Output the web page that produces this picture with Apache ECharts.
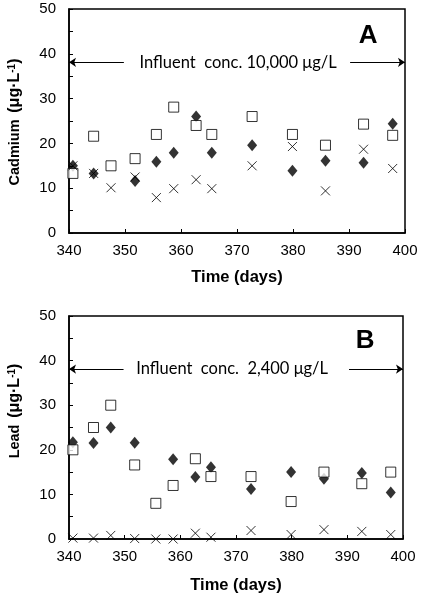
<!DOCTYPE html>
<html><head><meta charset="utf-8">
<script src="https://cdn.jsdelivr.net/npm/echarts@6/dist/echarts.min.js"></script>
<style>html,body{margin:0;padding:0;background:#fff}#c{width:421px;height:599px}</style>
</head><body><div id="c"></div>
<script>
var days = [340.7, 344.4, 347.5, 351.8, 355.6, 358.7, 362.7, 365.5, 372.7, 379.9, 385.8, 392.6, 397.8];
var cdSquares  = [13.3, 21.6, 15.0, 16.6, 22.0, 28.1, 24.0, 22.0, 26.0, 22.0, 19.6, 24.3, 21.8];
var cdDiamonds = [15.0, 13.3, null, 11.6, 15.9, 17.9, 26.0, 17.9, 19.6, 13.9, 16.1, 15.7, 24.4];
var cdCrosses  = [15.0, 13.3, 10.1, 12.5, 7.9, 9.9, 11.9, 9.9, 15.0, 19.3, 9.4, 18.7, 14.4];
var pbSquares  = [20.0, 25.0, 30.0, 16.6, 8.0, 12.0, 18.0, 14.0, 14.0, 8.4, 15.0, 12.4, 15.0];
var pbDiamonds = [21.7, 21.5, 25.0, 21.6, null, 17.9, 13.9, 16.1, 11.2, 15.0, 13.5, 14.8, 10.4];
var pbCrosses  = [0.2, 0.2, 0.8, 0.1, 0.0, 0.0, 1.3, 0.4, 1.9, 1.0, 2.1, 1.7, 1.0];
var xTicks = [340, 350, 360, 370, 380, 390, 400];
var yTicks = [0, 10, 20, 30, 40, 50];
var influentLevel = 38.1;
var cdNote = 'Influent  conc. 10,000 \u03bcg/L';
var pbNote = 'Influent  conc.  2,400 \u03bcg/L';

function pairs(vals) {
  var out = [];
  for (var i = 0; i < days.length; i++) if (vals[i] !== null) out.push([days[i], vals[i]]);
  return out;
}

var chart = echarts.init(document.getElementById('c'), null, {renderer: 'canvas'});
var AX = '"Liberation Sans", Arial, sans-serif';

function xAx(idx, gap) {
  return {
    type: 'value', gridIndex: idx, min: xTicks[0], max: xTicks[xTicks.length - 1], interval: 10,
    axisLine: {lineStyle: {color: '#000', width: 1.5}},
    axisTick: {inside: true, length: 4, lineStyle: {color: '#000', width: 1}},
    axisLabel: {color: '#000', fontFamily: AX, fontSize: 15, margin: 10},
    splitLine: {show: false},
    name: 'Time (days)', nameLocation: 'middle', nameGap: gap,
    nameTextStyle: {color: '#000', fontFamily: AX, fontSize: 16.5, fontWeight: 'bold'}
  };
}
function yAx(idx) {
  return {
    type: 'value', gridIndex: idx, min: yTicks[0], max: yTicks[yTicks.length - 1], interval: 5,
    axisLine: {lineStyle: {color: '#000', width: 1.5}},
    axisTick: {inside: true, length: 4, lineStyle: {color: '#000', width: 1}},
    axisLabel: {color: '#000', fontFamily: AX, fontSize: 15, margin: 13,
      formatter: function (v) { return yTicks.indexOf(v) >= 0 ? String(v) : ''; }},
    splitLine: {show: false}
  };
}

var crossPath = 'path://M0,0L10,10M10,0L0,10';

function seriesFor(idx, sq, di, cr, note, letter, noteX, letterX, letterY, leftEnd, rightStart) {
  return [
    {type: 'scatter', xAxisIndex: idx, yAxisIndex: idx, data: pairs(di), symbol: 'diamond', symbolSize: [10, 12],
      itemStyle: {color: '#000'}, z: 2, silent: true},
    {type: 'scatter', xAxisIndex: idx, yAxisIndex: idx, data: pairs(sq), symbol: 'rect', symbolSize: 10,
      itemStyle: {color: '#fff', borderColor: '#000', borderWidth: 1}, z: 3, silent: true,
      markLine: {silent: true, symbolSize: 7, label: {show: false},
        lineStyle: {color: '#000', width: 1, type: 'solid'},
        data: [
          [{coord: [xTicks[0], influentLevel], symbol: 'arrow'}, {coord: [leftEnd, influentLevel], symbol: 'none'}],
          [{coord: [rightStart, influentLevel], symbol: 'none'}, {coord: [xTicks[xTicks.length - 1], influentLevel], symbol: 'arrow'}]
        ]},
      markPoint: {silent: true, symbol: 'circle', symbolSize: 0,
        data: [
          {coord: [noteX, influentLevel], label: {show: true, position: 'inside', formatter: note, color: '#000',
            fontFamily: 'Lato, "Open Sans", sans-serif', fontSize: 16.5}},
          {coord: [letterX, letterY], label: {show: true, position: 'inside', formatter: letter, color: '#000',
            fontFamily: AX, fontSize: 26, fontWeight: 'bold'}}
        ]}},
    {type: 'scatter', xAxisIndex: idx, yAxisIndex: idx, data: pairs(cr), symbol: crossPath, symbolSize: 9,
      itemStyle: {color: 'rgba(0,0,0,0)', borderColor: '#000', borderWidth: 1}, z: 4, silent: true}
  ];
}

function yName(label, cx, cy) {
  return {
    type: 'text', x: cx, y: cy, rotation: Math.PI / 2, silent: true,
    style: {
      text: '{b|' + label + '}  {u|(\u03bcg\u00b7L}{s|-1}{u|)}',
      align: 'center', verticalAlign: 'middle', fill: '#000',
      rich: {
        b: {fontFamily: AX, fontSize: 14.5, fontWeight: 'bold', fill: '#000'},
        u: {fontFamily: AX, fontSize: 16, fontWeight: 'bold', fill: '#000'},
        s: {fontFamily: AX, fontSize: 10, fontWeight: 'bold', fill: '#000', verticalAlign: 'top'}
      }
    }
  };
}

var option = {
  animation: false,
  backgroundColor: '#fff',
  grid: [
    {left: 69, top: 9, width: 336, height: 224, show: true, borderColor: '#000', borderWidth: 1.5, backgroundColor: 'transparent'},
    {left: 69, top: 316, width: 334, height: 223, show: true, borderColor: '#000', borderWidth: 1.5, backgroundColor: 'transparent'}
  ],
  xAxis: [xAx(0, 36), xAx(1, 38)],
  yAxis: [yAx(0), yAx(1)],
  graphic: [yName('Cadmium', 15, 122), yName('Lead', 15, 411)],
  series: [].concat(
    seriesFor(0, cdSquares, cdDiamonds, cdCrosses, cdNote, 'A', 370.2, 393.4, 44.0, 349.8, 390.2),
    seriesFor(1, pbSquares, pbDiamonds, pbCrosses, pbNote, 'B', 369.3, 393.2, 44.4, 349.8, 390.3)
  )
};
chart.setOption(option);
</script></body></html>
